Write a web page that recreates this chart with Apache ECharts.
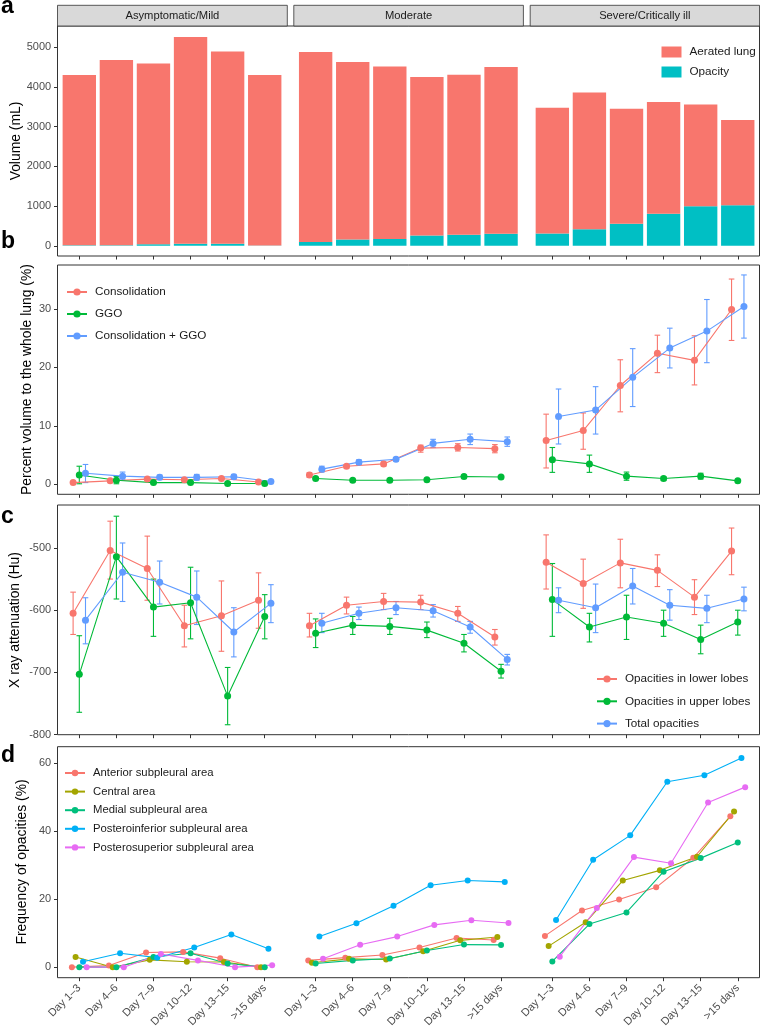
<!DOCTYPE html>
<html><head><meta charset="utf-8">
<script src="https://cdn.jsdelivr.net/npm/echarts@6/dist/echarts.min.js"></script>
<style>html,body{margin:0;padding:0;background:#fff}#c{width:762px;height:1029px}</style>
</head><body><div id="c"></div>
<script>
// ---------- categories / labels ----------
const categories = ['Day 1\u20133','Day 4\u20136','Day 7\u20139','Day 10\u201312','Day 13\u201315','>15 days'];
const facets = ['Asymptomatic/Mild','Moderate','Severe/Critically ill'];
const yTicksA = [0,1000,2000,3000,4000,5000];
const yTicksB = [0,10,20,30];
const yTicksC = [-800,-700,-600,-500];
const yTicksD = [0,20,40,60];

// ---------- panel a: volumes (mL), per facet ----------
const aeratedLung = [
  [4285,4662,4552,5202,4839,4292],
  [4779,4467,4340,3989,4030,4199],
  [3166,3441,2897,2813,2560,2141]
];
const opacityVolume = [
  [15,15,40,55,55,8],
  [100,160,176,260,277,302],
  [310,420,554,806,1000,1025]
];

// ---------- panel b: percent volume (%) ----------
const consMean = [[0.3,0.6,0.9,0.8,1.0,0.4],[1.6,3.1,3.5,6.2,6.3,6.1],[7.5,9.2,16.9,22.4,21.2,29.9]];
const consLo   = [[0.15,0.45,0.75,0.65,0.85,0.3],[1.2,2.8,3.15,5.5,5.7,5.4],[2.8,6.0,12.4,19.1,17.0,24.6]];
const consHi   = [[0.45,0.75,1.05,0.95,1.15,0.5],[2.0,3.4,3.85,6.7,6.95,6.8],[12.0,12.2,21.3,25.5,25.4,35.1]];
const ggoMean  = [[1.6,0.7,0.3,0.3,0.15,0.15],[1.0,0.7,0.7,0.8,1.35,1.25],[4.2,3.5,1.4,1.0,1.4,0.6]];
const ggoLo    = [[0.1,0.1,0.15,0.15,0.05,0.05],[0.8,0.55,0.55,0.65,1.15,1.1],[2.05,2.05,0.7,0.7,0.9,0.45]];
const ggoHi    = [[3.1,1.35,0.45,0.45,0.25,0.25],[1.2,0.85,0.85,0.95,1.55,1.4],[6.3,5.0,2.1,1.3,1.9,0.75]];
const bothMean = [[1.9,1.4,1.2,1.2,1.3,0.5],[2.6,3.8,4.3,7.0,7.7,7.3],[11.6,12.7,18.3,23.3,26.2,30.4]];
const bothLo   = [[0.3,0.75,0.8,0.7,0.9,0.4],[2.1,3.4,4.0,6.3,6.8,6.5],[6.9,8.6,13.3,19.9,20.8,25.0]];
const bothHi   = [[3.4,2.1,1.6,1.7,1.7,0.6],[3.1,4.2,4.6,7.7,8.6,8.1],[16.3,16.7,23.2,26.7,31.6,35.8]];

// ---------- panel c: attenuation (Hu) ----------
const lowerMean = [[-605,-504,-533,-625,-609,-584],[-625,-592,-586,-587,-605,-643],[-523,-557,-524,-536,-579,-505]];
const lowerLo   = [[-639,-550,-584,-659,-666,-629],[-643,-606,-599,-599,-618,-656],[-566,-597,-564,-562,-607,-543]];
const lowerHi   = [[-571,-457,-481,-592,-553,-540],[-605,-579,-573,-576,-594,-631],[-479,-518,-486,-511,-551,-468]];
const upperMean = [[-703,-514,-595,-588,-738,-610],[-637,-624,-626,-632,-653,-698],[-583,-627,-611,-621,-647,-619]];
const upperLo   = [[-764,-582,-642,-646,-784,-646],[-660,-639,-639,-644,-667,-709],[-642,-651,-647,-642,-670,-640]];
const upperHi   = [[-641,-449,-550,-531,-692,-575],[-614,-610,-613,-619,-639,-687],[-525,-605,-576,-600,-624,-600]];
const totalMean = [[-616,-539,-555,-579,-635,-589],[-621,-605,-596,-601,-627,-679],[-584,-596,-561,-592,-597,-582]];
const totalLo   = [[-654,-586,-590,-623,-675,-620],[-636,-615,-607,-611,-637,-688],[-604,-636,-590,-616,-620,-601]];
const totalHi   = [[-580,-492,-521,-537,-596,-559],[-605,-595,-586,-591,-618,-671],[-564,-558,-533,-567,-576,-563]];

// ---------- panel d: frequency of opacities (%) ----------
const anteriorFreq  = [[0,0.5,4.3,4.5,2.65,0],[2.0,2.8,3.6,5.8,8.6,8.0],[9.2,16.7,19.9,23.5,32.2,44.4]];
const centralFreq   = [[3.0,0,2.15,1.6,1.5,0],[1.3,2.45,2.25,4.7,7.9,8.9],[6.2,13.2,25.5,28.5,32.5,45.8]];
const medialFreq    = [[0,0,3.0,4.1,1.1,0],[1.1,2.0,2.55,4.9,6.65,6.55],[1.7,12.7,16.1,28.1,32.1,36.7]];
const postInfFreq   = [[1.6,4.1,2.8,5.8,9.6,5.4],[9.0,12.9,18.1,24.1,25.5,25.1],[13.9,31.6,38.8,54.6,56.5,61.6]];
const postSupFreq   = [[0,0,3.9,2.0,0,0.6],[2.45,6.6,9.0,12.45,13.8,13.0],[3.1,17.4,32.4,30.6,48.5,53.0]];

// ---------- layout ----------
const FONT = '"Liberation Sans", Arial, Helvetica, sans-serif';
const facetLeft = [60.76, 297.1, 533.8];
const facetWidth = 222.5;
const panelTop = [26, 265, 505, 746.7];
const panelHeight = [230, 229.3, 229.7, 231];
const yRange = [[-255,5535],[-1.7,37.5],[-800,-431],[-3.1,64.9]];
const yTicks = [yTicksA, yTicksB, yTicksC, yTicksD];
const boxLeft = 57.5, boxRight = 759.5;

const grid = [], xAxis = [], yAxis = [], series = [];
for (let p = 0; p < 4; p++) {
  for (let f = 0; f < 3; f++) {
    const g = p * 3 + f;
    grid.push({left: facetLeft[f], top: panelTop[p], width: facetWidth, height: panelHeight[p], containLabel: false, outerBoundsMode: 'none'});
    xAxis.push({
      type: 'category', gridIndex: g, data: categories, boundaryGap: true, position: 'bottom',
      axisLine: {show: false, onZero: false},
      axisTick: {show: true, alignWithLabel: true, interval: 0, length: 3.5, lineStyle: {color: '#333', width: 1}},
      axisLabel: {show: p === 3, interval: 0, rotate: 45, fontSize: 11, color: '#4D4D4D', margin: 8.5, fontFamily: FONT},
      splitLine: {show: false}
    });
    xAxis.push({type: 'value', gridIndex: g, min: -0.5, max: 5.5, show: false, axisLine: {onZero: false}});
    yAxis.push({
      type: 'value', gridIndex: g, min: yRange[p][0], max: yRange[p][1], show: f === 0, position: 'left',
      offset: facetLeft[0] - boxLeft,
      axisLine: {show: false, onZero: false},
      axisTick: {show: true, length: 3.5, customValues: yTicks[p], lineStyle: {color: '#333', width: 1}},
      axisLabel: {customValues: yTicks[p], fontSize: 11, color: '#4D4D4D', margin: 6.3, fontFamily: FONT,
        formatter: v => String(v)},
      splitLine: {show: false}
    });
  }
}

// panel a bars
for (let f = 0; f < 3; f++) {
  series.push({type: 'bar', name: 'Opacity', xAxisIndex: 2 * f, yAxisIndex: f, stack: 'v' + f,
    data: opacityVolume[f], barCategoryGap: '10%', itemStyle: {color: '#00BFC4'}, silent: true});
  series.push({type: 'bar', name: 'Aerated lung', xAxisIndex: 2 * f, yAxisIndex: f, stack: 'v' + f,
    data: aeratedLung[f], barCategoryGap: '10%', itemStyle: {color: '#F8766D'}, silent: true});
}

function makeErr(color) {
  return function (params, api) {
    const x = api.value(0), lo = api.value(1), hi = api.value(2);
    const a = api.coord([x, lo]), b = api.coord([x, hi]);
    const w = 2.8;
    const st = {stroke: color, lineWidth: 1.1};
    return {type: 'group', children: [
      {type: 'line', shape: {x1: a[0], y1: a[1], x2: b[0], y2: b[1]}, style: st},
      {type: 'line', shape: {x1: a[0] - w, y1: a[1], x2: a[0] + w, y2: a[1]}, style: st},
      {type: 'line', shape: {x1: b[0] - w, y1: b[1], x2: b[0] + w, y2: b[1]}, style: st}
    ]};
  };
}

function addPoints(p, name, color, means, los, his, offset, symSize) {
  for (let f = 0; f < 3; f++) {
    const g = p * 3 + f;
    series.push({type: 'line', name: name, xAxisIndex: 2 * g + 1, yAxisIndex: g,
      data: means[f].map((v, i) => [i + offset, v]),
      symbol: 'circle', symbolSize: symSize, showSymbol: true,
      lineStyle: {color: color, width: 1.1}, itemStyle: {color: color},
      z: 3, silent: true, clip: false, emphasis: {disabled: true}});
    if (los) {
      series.push({type: 'custom', name: name + ' (err)', xAxisIndex: 2 * g + 1, yAxisIndex: g,
        data: means[f].map((v, i) => [i + offset, los[f][i], his[f][i]]),
        renderItem: makeErr(color), encode: {x: 0, y: [1, 2]}, z: 2, silent: true, clip: false});
    }
  }
}

const dodge3 = [-0.167, 0, 0.167];
addPoints(1, 'Consolidation', '#F8766D', consMean, consLo, consHi, dodge3[0], 7);
addPoints(1, 'GGO', '#00BA38', ggoMean, ggoLo, ggoHi, dodge3[1], 7);
addPoints(1, 'Consolidation + GGO', '#619CFF', bothMean, bothLo, bothHi, dodge3[2], 7);

addPoints(2, 'Opacities in lower lobes', '#F8766D', lowerMean, lowerLo, lowerHi, dodge3[0], 7);
addPoints(2, 'Opacities in upper lobes', '#00BA38', upperMean, upperLo, upperHi, dodge3[1], 7);
addPoints(2, 'Total opacities', '#619CFF', totalMean, totalLo, totalHi, dodge3[2], 7);

const dodge5 = [-0.2, -0.1, 0, 0.1, 0.2];
addPoints(3, 'Anterior subpleural area', '#F8766D', anteriorFreq, null, null, dodge5[0], 6);
addPoints(3, 'Central area', '#A3A500', centralFreq, null, null, dodge5[1], 6);
addPoints(3, 'Medial subpleural area', '#00BF7D', medialFreq, null, null, dodge5[2], 6);
addPoints(3, 'Posteroinferior subpleural area', '#00B0F6', postInfFreq, null, null, dodge5[3], 6);
addPoints(3, 'Posterosuperior subpleural area', '#E76BF3', postSupFreq, null, null, dodge5[4], 6);

const legTxt = (fs) => ({fontSize: fs, color: '#1A1A1A', fontFamily: FONT, padding: [0, 0, 0, 3]});
const legend = [
  {data: ['Aerated lung', 'Opacity'], orient: 'vertical', left: 661.5, top: 46, padding: 0,
    itemWidth: 20, itemHeight: 11, itemGap: 8, icon: 'rect', textStyle: legTxt(11.7), selectedMode: false},
  {data: ['Consolidation', 'GGO', 'Consolidation + GGO'], orient: 'vertical', left: 66, top: 286, padding: 0,
    itemWidth: 20, itemHeight: 9, itemGap: 10, textStyle: legTxt(11.7), selectedMode: false},
  {data: ['Opacities in lower lobes', 'Opacities in upper lobes', 'Total opacities'], orient: 'vertical', left: 596, top: 673, padding: 0,
    itemWidth: 20, itemHeight: 9, itemGap: 10.3, textStyle: legTxt(11.7), selectedMode: false},
  {data: ['Anterior subpleural area', 'Central area', 'Medial subpleural area', 'Posteroinferior subpleural area', 'Posterosuperior subpleural area'],
    orient: 'vertical', left: 64, top: 767.5, padding: 0,
    itemWidth: 20, itemHeight: 8, itemGap: 7.6, textStyle: legTxt(11.3), selectedMode: false}
];

// frames, strips, titles, letters
const graphic = [];
for (let p = 0; p < 4; p++) {
  graphic.push({type: 'rect', silent: true, z: 100,
    shape: {x: boxLeft, y: panelTop[p], width: boxRight - boxLeft, height: panelHeight[p]},
    style: {fill: 'none', stroke: '#333', lineWidth: 1}});
}
const stripX = [[57.5, 287.3], [293.8, 523.4], [530.2, 759.5]];
for (let f = 0; f < 3; f++) {
  graphic.push({type: 'rect', silent: true, z: 100,
    shape: {x: stripX[f][0], y: 5.3, width: stripX[f][1] - stripX[f][0], height: 20.7},
    style: {fill: '#D9D9D9', stroke: '#333', lineWidth: 0.8}});
  graphic.push({type: 'text', silent: true, z: 101,
    x: (stripX[f][0] + stripX[f][1]) / 2, y: 15.8,
    style: {text: facets[f], align: 'center', verticalAlign: 'middle', fontSize: 11.2, fontFamily: FONT, fill: '#1A1A1A'}});
}
const yTitles = [['Volume (mL)', 16, 141], ['Percent volume to the whole lung (%)', 27, 379.5],
                 ['X ray attenuation (Hu)', 15.5, 620], ['Frequency of opacities (%)', 22.5, 862]];
yTitles.forEach(t => graphic.push({type: 'text', silent: true, z: 101, x: t[1], y: t[2], rotation: Math.PI / 2,
  style: {text: t[0], align: 'center', verticalAlign: 'middle', fontSize: 13.9, fontFamily: FONT, fill: '#000'}}));
const letters = [['a', 7], ['b', 242], ['c', 517], ['d', 756]];
letters.forEach(l => graphic.push({type: 'text', silent: true, z: 101, x: 1, y: l[1],
  style: {text: l[0], align: 'left', verticalAlign: 'middle', fontSize: 23, fontWeight: 'bold', fontFamily: FONT, fill: '#000'}}));

const chart = echarts.init(document.getElementById('c'), null, {renderer: 'canvas'});
chart.setOption({
  animation: false,
  backgroundColor: '#fff',
  textStyle: {fontFamily: FONT},
  grid, xAxis, yAxis, series, legend, graphic,
  tooltip: {show: false}
});
</script></body></html>
